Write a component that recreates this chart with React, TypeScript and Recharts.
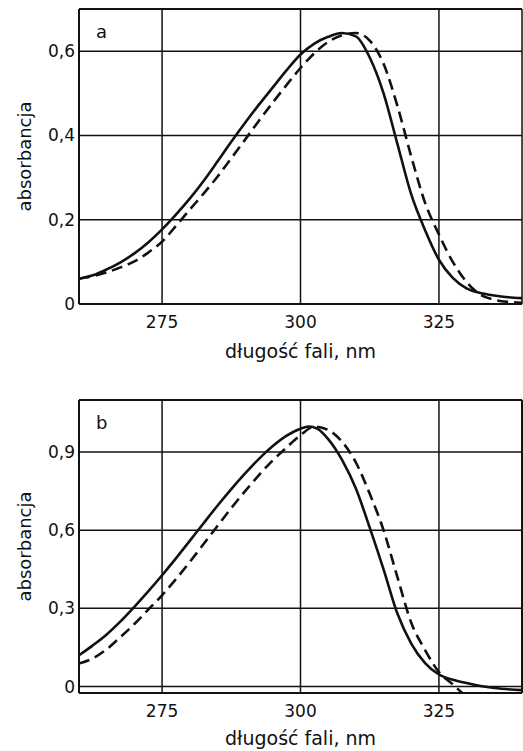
import React from "react";
import {
  LineChart,
  Line,
  XAxis,
  YAxis,
  CartesianGrid,
  ReferenceLine,
  Label,
} from "recharts";

// panel a
const NM_A = [
  260, 262.5, 265, 267.5, 270, 272.5, 275, 277.5, 280, 282.5, 285, 287.5, 290,
  292.5, 295, 297.5, 300, 302.5, 305, 307.5, 310, 312.5, 315, 317.5, 320,
  322.5, 325, 327.5, 330, 332.5, 335, 337.5, 340,
];
const SOLID_A = [
  0.06, 0.068, 0.082, 0.099, 0.12, 0.146, 0.177, 0.212, 0.25, 0.292, 0.338,
  0.385, 0.43, 0.473, 0.514, 0.555, 0.592, 0.618, 0.634, 0.643, 0.635, 0.585,
  0.5, 0.38, 0.26, 0.175, 0.105, 0.062, 0.037, 0.026, 0.02, 0.016, 0.014,
];
const DASHED_A = [
  0.06, 0.066, 0.075, 0.087, 0.101, 0.122, 0.148, 0.185, 0.224, 0.262, 0.302,
  0.346, 0.39, 0.435, 0.478, 0.52, 0.56, 0.595, 0.622, 0.638, 0.643, 0.625,
  0.57, 0.47, 0.35, 0.24, 0.165, 0.1, 0.052, 0.022, 0.01, 0.005, 0.003,
];

// panel b
const NM_B_SOLID = [
  260, 262.5, 265, 267.5, 270, 272.5, 275, 277.5, 280, 282.5, 285, 287.5, 290,
  292.5, 295, 297.5, 300, 301.5, 303, 305, 307.5, 310, 312.5, 315, 317.5, 320,
  322.5, 325, 327.5, 330, 332.5, 335, 340,
];
const SOLID_B = [
  0.12, 0.158, 0.2, 0.25, 0.306, 0.365, 0.427, 0.492, 0.559, 0.627, 0.694,
  0.758, 0.818, 0.874, 0.923, 0.963, 0.99, 0.998, 0.99, 0.95, 0.87, 0.76, 0.61,
  0.45, 0.28, 0.165, 0.09, 0.046, 0.026, 0.013, 0.002, -0.006, -0.014,
];
const NM_B_DASHED = [
  260, 262.5, 265, 267.5, 270, 272.5, 275, 277.5, 280, 282.5, 285, 287.5, 290,
  292.5, 295, 297.5, 300, 302.5, 305, 307.5, 310, 312.5, 315, 317.5, 320,
  322.5, 325, 327.5, 329.2,
];
const DASHED_B = [
  0.088, 0.108, 0.143, 0.19, 0.24, 0.295, 0.35, 0.412, 0.478, 0.547, 0.616,
  0.685, 0.75, 0.812, 0.868, 0.918, 0.965, 0.998, 0.985, 0.94, 0.86, 0.74, 0.6,
  0.42, 0.245, 0.14, 0.055, 0.008, -0.025,
];

const X_TICKS = [275, 300, 325];
const Y_TICKS_A = [0, 0.2, 0.4, 0.6];
const Y_TICKS_B = [0, 0.3, 0.6, 0.9];

const toRows = (xs: number[], ys: number[]) =>
  xs.map((nm, i) => ({ nm, v: ys[i] }));

const FONT = "'DejaVu Sans', sans-serif";
const INK = "#111";

const fmtY = (v: number) => (v === 0 ? "0" : v.toFixed(1).replace(".", ","));

const yTitle = (props: any) => {
  const { viewBox } = props;
  const cx = 24;
  const cy = viewBox.y + viewBox.height / 2;
  return (
    <text
      x={cx}
      y={cy}
      transform={`rotate(-90, ${cx}, ${cy})`}
      textAnchor="middle"
      dominantBaseline="central"
      fontSize={18}
      fontFamily={FONT}
      fill={INK}
    >
      absorbancja
    </text>
  );
};

function Panel({
  height,
  marginTop,
  xAxisHeight,
  yMin,
  yMax,
  yTicks,
  solid,
  dashed,
  letter,
  rightBorder,
}: any) {
  return (
    <div style={{ position: "relative", width: 523, height }}>
      <LineChart
        width={523}
        height={height}
        margin={{ top: marginTop, right: 1, left: 0, bottom: 0 }}
      >
        <CartesianGrid stroke={INK} strokeWidth={1.5} />
        <XAxis
          type="number"
          dataKey="nm"
          domain={[260, 340]}
          ticks={X_TICKS}
          allowDataOverflow
          height={xAxisHeight}
          tickLine={false}
          tickSize={2}
          tickMargin={10}
          axisLine={{ stroke: INK, strokeWidth: 2 }}
          tick={{ fill: INK, fontSize: 17, fontFamily: FONT }}
        >
          <Label
            value="długość  fali, nm"
            position="insideBottom"
            offset={6}
            fill={INK}
            fontSize={19}
            fontFamily={FONT}
          />
        </XAxis>
        <YAxis
          type="number"
          domain={[yMin, yMax]}
          ticks={yTicks}
          allowDataOverflow
          width={79}
          tickLine={false}
          tickSize={2}
          tickMargin={2}
          tickFormatter={fmtY}
          axisLine={{ stroke: INK, strokeWidth: 2 }}
          tick={{ fill: INK, fontSize: 17, fontFamily: FONT }}
        >
          <Label content={yTitle} />
        </YAxis>
        <ReferenceLine y={yMax} stroke={INK} strokeWidth={2} />
        {rightBorder && <ReferenceLine x={340} stroke={INK} strokeWidth={2} />}
        <Line
          data={solid}
          dataKey="v"
          type="monotone"
          stroke={INK}
          strokeWidth={2.6}
          dot={false}
          isAnimationActive={false}
        />
        <Line
          data={dashed}
          dataKey="v"
          type="monotone"
          stroke={INK}
          strokeWidth={2.6}
          strokeDasharray="11 6"
          dot={false}
          isAnimationActive={false}
        />
      </LineChart>
      <span
        style={{
          position: "absolute",
          left: 96,
          top: marginTop + 14,
          fontFamily: FONT,
          fontSize: 18,
          color: INK,
          lineHeight: "18px",
        }}
      >
        {letter}
      </span>
    </div>
  );
}

export default function App() {
  return (
    <div
      style={{
        position: "absolute",
        left: 0,
        top: 0,
        width: 523,
        height: 751,
        background: "#fff",
      }}
    >
      <Panel
        height={364}
        marginTop={9}
        xAxisHeight={60}
        yMin={0}
        yMax={0.7}
        yTicks={Y_TICKS_A}
        solid={toRows(NM_A, SOLID_A)}
        dashed={toRows(NM_A, DASHED_A)}
        letter="a"
        rightBorder={false}
      />
      <Panel
        height={387}
        marginTop={36}
        xAxisHeight={58}
        yMin={-0.025}
        yMax={1.1}
        yTicks={Y_TICKS_B}
        solid={toRows(NM_B_SOLID, SOLID_B)}
        dashed={toRows(NM_B_DASHED, DASHED_B)}
        letter="b"
        rightBorder={true}
      />
    </div>
  );
}
